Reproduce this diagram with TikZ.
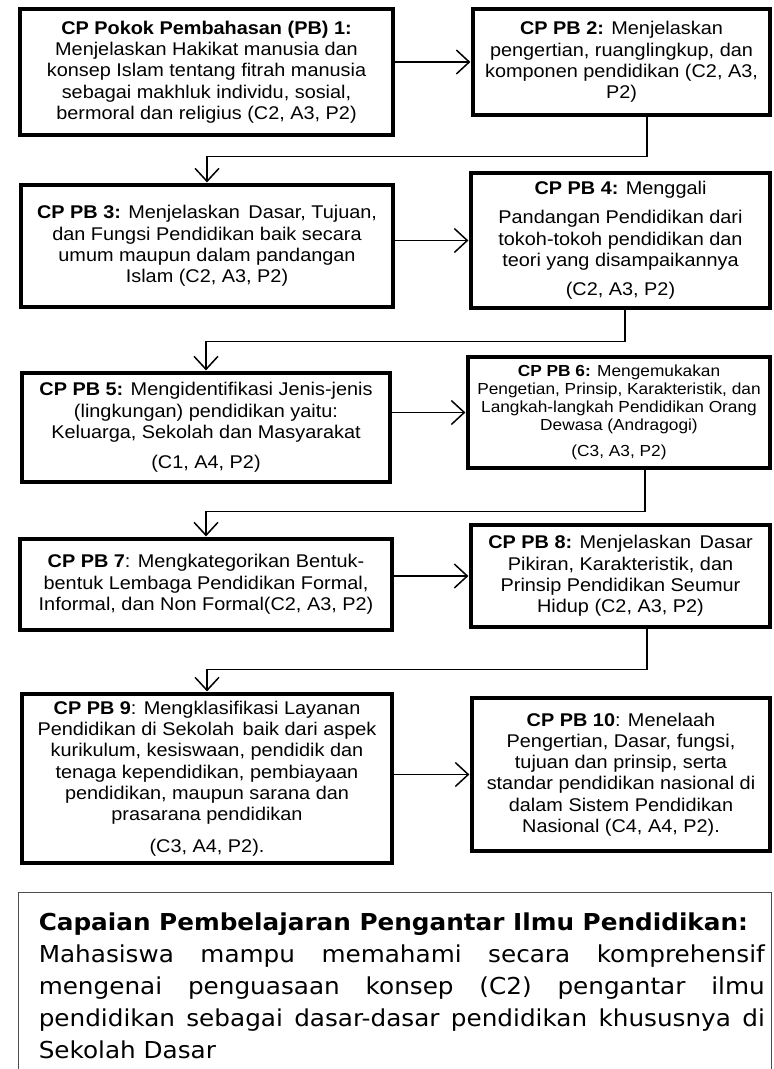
\documentclass[tikz,border=0pt]{standalone}
\usepackage{fontspec}
\setmainfont{Liberation Sans}[FakeStretch=1.08]
\newfontfamily\capfont{DejaVu Sans}[FakeStretch=1.06]
\usetikzlibrary{arrows.meta}

\begin{document}
\begin{tikzpicture}[x=1pt,y=-1pt,->,>={Straight Barb[length=13pt,width=24pt]},
                    shorten >=1pt,line width=1.5pt,
                    pb/.style={draw,rectangle,line width=3.2pt,align=center,
                               inner sep=0pt,font=\fontsize{18.4}{21.3}\selectfont},
                    pbsmall/.style={pb,font=\fontsize{16}{18}\selectfont}]

  \useasboundingbox (0,0) rectangle (774,1069);

  \node[pb,minimum width=373pt,minimum height=126pt] (b1) at (206.5,72)
    {\textbf{CP Pokok Pembahasan (PB) 1:}\\ Menjelaskan Hakikat manusia dan\\
     konsep Islam tentang fitrah manusia\\ sebagai makhluk individu, sosial,\\
     bermoral dan religius (C2, A3, P2)};
  \node[pb,minimum width=297pt,minimum height=106pt] (b2) at (621.5,62)
    {\textbf{CP PB 2:} Menjelaskan\\ pengertian, ruanglingkup, dan\\
     komponen pendidikan (C2, A3,\\ P2)};
  \node[pb,minimum width=372pt,minimum height=122pt] (b3) at (207,246)
    {\textbf{CP PB 3:} Menjelaskan\, Dasar, Tujuan,\\ dan Fungsi Pendidikan baik secara\\
     umum maupun dalam pandangan\\ Islam (C2, A3, P2)};
  \node[pb,minimum width=299pt,minimum height=135pt] (b4) at (620.5,240.5)
    {\textbf{CP PB 4:} Menggali\\[8pt] Pandangan Pendidikan dari\\
     tokoh-tokoh pendidikan dan\\ teori yang disampaikannya\\[8pt] (C2, A3, P2)};
  \node[pb,minimum width=368pt,minimum height=109pt] (b5) at (206,427.5)
    {\textbf{CP PB 5:} Mengidentifikasi Jenis-jenis\\ (lingkungan) pendidikan yaitu:\\
     Keluarga, Sekolah dan Masyarakat\\[9pt] (C1, A4, P2)};
  \node[pbsmall,minimum width=302pt,minimum height=111pt] (b6) at (619,412.5)
    {\textbf{CP PB 6:} Mengemukakan\\ Pengetian, Prinsip, Karakteristik, dan\\
     Langkah-langkah Pendidikan Orang\\ Dewasa (Andragogi)\\[8pt] (C3, A3, P2)};
  \node[pb,minimum width=372pt,minimum height=91pt] (b7) at (206,584.5)
    {\textbf{CP PB 7}: Mengkategorikan Bentuk-\\ bentuk Lembaga Pendidikan Formal,\\
     Informal, dan Non Formal(C2, A3, P2)};
  \node[pb,minimum width=299pt,minimum height=102pt] (b8) at (620.5,576)
    {\textbf{CP PB 8:} Menjelaskan\, Dasar\\ Pikiran, Karakteristik, dan\\
     Prinsip Pendidikan Seumur\\ Hidup (C2, A3, P2)};
  \node[pb,minimum width=370pt,minimum height=169pt] (b9) at (207,778.5)
    {\textbf{CP PB 9}: Mengklasifikasi Layanan\\ Pendidikan di Sekolah\, baik dari aspek\\
     kurikulum, kesiswaan, pendidik dan\\ tenaga kependidikan, pembiayaan\\
     pendidikan, maupun sarana dan\\ prasarana pendidikan\\[10pt] (C3, A4, P2).};
  \node[pb,minimum width=298pt,minimum height=153pt] (b10) at (621,774.5)
    {\textbf{CP PB 10}: Menelaah\\ Pengertian, Dasar, fungsi,\\ tujuan dan prinsip, serta\\
     standar pendidikan nasional di\\ dalam Sistem Pendidikan\\ Nasional (C4, A4, P2).};

  % capaian pembelajaran
  \node[draw=black!70,line width=1.2pt,anchor=north west,minimum width=753pt,
        minimum height=200pt] (cp) at (18,892) {};
  \node[anchor=north west,text width=726pt,align=justify,inner sep=0pt,
        font=\capfont\fontsize{23.3}{32}\selectfont] (cptext) at (38,912)
    {\textbf{Capaian Pembelajaran Pengantar Ilmu Pendidikan:}\\
     Mahasiswa mampu memahami secara komprehensif\linebreak{} mengenai penguasaan
     konsep (C2) pengantar ilmu\linebreak{} pendidikan sebagai dasar-dasar pendidikan
     khususnya di\linebreak{} Sekolah Dasar};

  \draw (b1.east |- b2.west) -- (b2.west);
  \draw (b3.east |- b4.west) -- (b4.west);
  \draw (b5.east |- b6.west) -- (b6.west);
  \draw (b7.east |- b8.west) -- (b8.west);
  \draw (b9.east |- b10.west) -- (b10.west);

  \draw ([xshift=25.5pt]b2.south) -- ++(0,40) -| (b3.north);
  \draw ([xshift=4.5pt]b4.south) -- ++(0,32) -| (b5.north);
  \draw ([xshift=26pt]b6.south) -- ++(0,42) -| (b7.north);
  \draw ([xshift=26.5pt]b8.south) -- ++(0,41) -| (b9.north);
\end{tikzpicture}
\end{document}
